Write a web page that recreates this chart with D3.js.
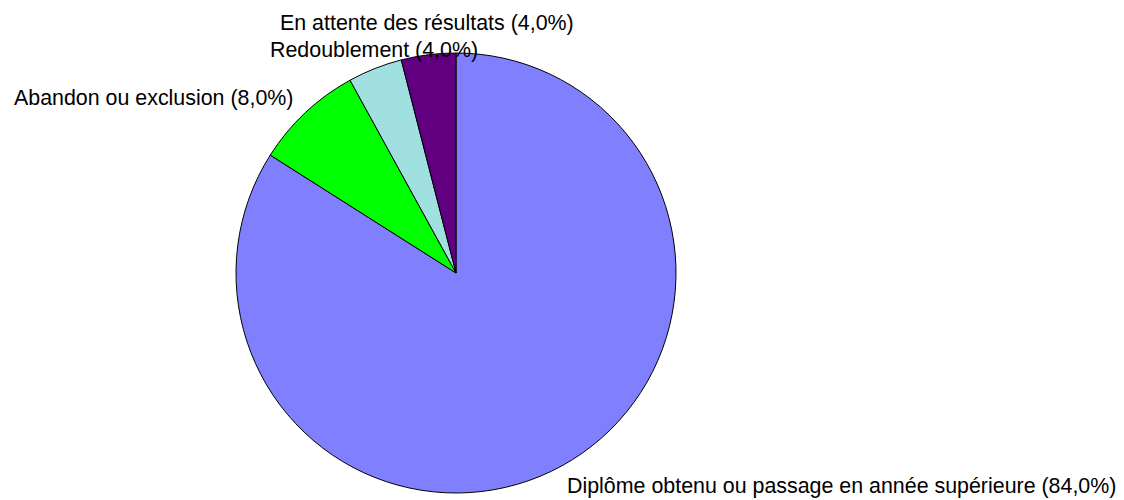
<!DOCTYPE html>
<html>
<head>
<meta charset="utf-8">
<script src="https://cdn.jsdelivr.net/npm/d3@7"></script>
<style>
  html, body { margin: 0; padding: 0; background: #fff; }
  svg text { font-family: "Liberation Sans", Arial, sans-serif; fill: #000; }
</style>
</head>
<body>
<svg id="chart" width="1124" height="500"></svg>
<script>
// Outcome categories and their shares (%), in clockwise order from 12 o'clock
const categories = [
  "Diplôme obtenu ou passage en année supérieure",
  "Abandon ou exclusion",
  "Redoublement",
  "En attente des résultats"
];
const values = [84.0, 8.0, 4.0, 4.0];
const colors = ["#8080FF", "#00FF00", "#A0E0E0", "#600080"];

const svg = d3.select("#chart");
const cx = 456, cy = 273, radius = 220;

const pie = d3.pie().sort(null).value(d => d.value);
const arc = d3.arc().innerRadius(0).outerRadius(radius);

const data = categories.map((c, i) => ({ name: c, value: values[i], color: colors[i] }));
const arcs = pie(data);

const g = svg.append("g").attr("transform", `translate(${cx},${cy})`);
g.selectAll("path")
  .data(arcs)
  .join("path")
  .attr("d", arc)
  .attr("fill", d => d.data.color)
  .attr("stroke", "#000")
  .attr("stroke-width", 1);

// Label placement for each slice (text start x, baseline y)
const labelPos = [
  [567, 493],
  [14, 105],
  [270, 57],
  [280, 30]
];
const fmt = v => v.toFixed(1).replace(".", ",");
svg.selectAll("text.lbl")
  .data(arcs)
  .join("text")
  .attr("class", "lbl")
  .attr("x", (d, i) => labelPos[i][0])
  .attr("y", (d, i) => labelPos[i][1])
  .attr("font-size", 21.4)
  .text(d => `${d.data.name} (${fmt(d.data.value)}%)`);
</script>
</body>
</html>
